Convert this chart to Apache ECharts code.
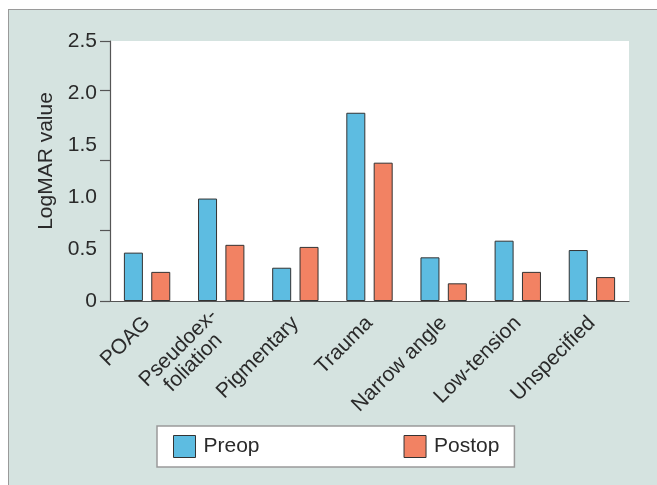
<!DOCTYPE html>
<html>
<head>
<meta charset="utf-8">
<script src="https://cdn.jsdelivr.net/npm/echarts@6/dist/echarts.min.js"></script>
<style>
html,body{margin:0;padding:0;width:657px;height:485px;overflow:hidden;background:#fff;}
#frame{position:absolute;left:8px;top:9px;width:700px;height:520px;background:#d5e3e0;border:1px solid #9a9a9a;}
#main{position:absolute;left:0;top:0;width:657px;height:485px;}
</style>
</head>
<body>
<div id="frame"></div>
<div id="main"></div>
<script>
const categories = ['POAG', 'Pseudoex-\nfoliation', 'Pigmentary', 'Trauma', 'Narrow angle', 'Low-tension', 'Unspecified'];
const preop = [0.465, 0.985, 0.32, 1.81, 0.42, 0.58, 0.49];
const postop = [0.28, 0.54, 0.52, 1.33, 0.17, 0.28, 0.23];
const yLabelValues = [0, 0.5, 1.0, 1.5, 2.0, 2.5];
const yTickValues = [0, 0.68, 1.35, 2.03, 2.5];
const seriesNames = ['Preop', 'Postop'];

const FONT = '"Liberation Sans", Arial, Helvetica, sans-serif';
const FS = 21;
const chart = echarts.init(document.getElementById('main'), null, {renderer: 'canvas'});
chart.setOption({
  backgroundColor: 'transparent',
  animation: false,
  textStyle: {fontFamily: FONT},
  grid: {left: 110, right: 28, top: 41, bottom: 184, show: true, backgroundColor: '#ffffff', borderWidth: 0},
  legend: {
    data: seriesNames,
    left: 157, top: 426,
    itemWidth: 22, itemHeight: 22, itemGap: 144,
    padding: [9, 15, 9, 16],
    backgroundColor: '#ffffff', borderColor: '#9a9a9a', borderWidth: 1.5,
    icon: 'rect',
    itemStyle: {borderColor: '#333', borderWidth: 1},
    textStyle: {fontSize: FS, color: '#2a2a2a', fontFamily: FONT, padding: [0, 0, 0, 3]}
  },
  xAxis: {
    type: 'category',
    data: categories,
    axisLine: {lineStyle: {color: '#555', width: 1.2}},
    axisTick: {alignWithLabel: true, length: 9, lineStyle: {color: '#555', width: 1.2}},
    axisLabel: {
      interval: 0, rotate: 45, fontSize: FS, color: '#2a2a2a', margin: 19, fontFamily: FONT,
      formatter: function (v) {
        if (v.indexOf('\n') >= 0) {
          return v.split('\n').map(s => '{c|' + s + '}').join('\n');
        }
        return v;
      },
      rich: {c: {width: 100, align: 'center', fontSize: FS, fontFamily: FONT, color: '#2a2a2a'}}
    }
  },
  yAxis: {
    type: 'value',
    min: 0, max: 2.5,
    name: 'LogMAR value',
    nameLocation: 'middle',
    nameGap: 48,
    nameTextStyle: {fontSize: FS, color: '#2a2a2a', fontFamily: FONT, padding: [0, 0, 0, 20]},
    axisLine: {show: true, lineStyle: {color: '#555', width: 1.2}},
    axisTick: {show: true, length: 10, customValues: yTickValues, lineStyle: {color: '#555', width: 1.2}},
    axisLabel: {
      customValues: yLabelValues, fontSize: FS, color: '#2a2a2a', margin: 13, fontFamily: FONT,
      formatter: v => (v === 0 ? '0' : v.toFixed(1))
    },
    splitLine: {show: false}
  },
  series: [
    {name: seriesNames[0], type: 'bar', data: preop, barWidth: 19, barGap: '44%',
     itemStyle: {color: '#5dbce1', borderColor: '#333', borderWidth: 1}},
    {name: seriesNames[1], type: 'bar', data: postop, barWidth: 19,
     itemStyle: {color: '#f28263', borderColor: '#333', borderWidth: 1}}
  ]
});
</script>
</body>
</html>
